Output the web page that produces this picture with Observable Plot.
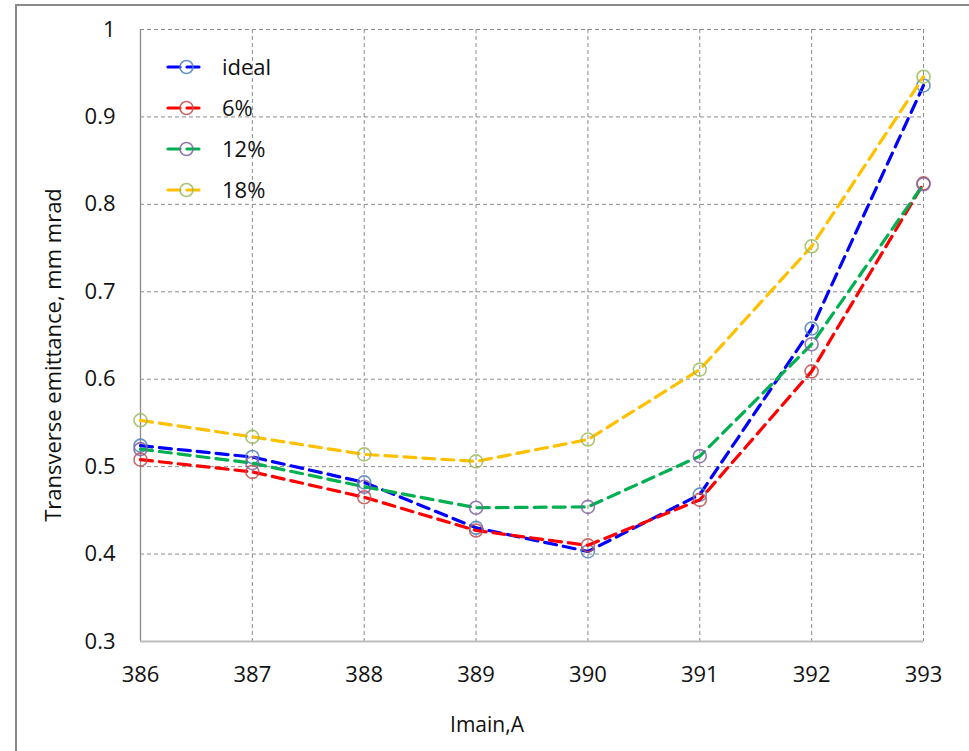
<!DOCTYPE html>
<html>
<head>
<meta charset="utf-8">
<script src="https://cdn.jsdelivr.net/npm/d3@7"></script>
<script src="https://cdn.jsdelivr.net/npm/@observablehq/plot@0.6"></script>
<style>
  html, body { margin: 0; padding: 0; background: #fff; }
  #wrap { position: relative; width: 969px; height: 751px; overflow: hidden; font-family: "Open Sans", sans-serif; }
  #frame { position: absolute; left: 15px; top: 4px; width: 1000px; height: 800px; border-left: 2px solid #8a8a8a; border-top: 2px solid #8a8a8a; box-sizing: border-box; }
  #chart { position: absolute; left: 0; top: 0; }
</style>
</head>
<body>
<div id="wrap"><div id="frame"></div><div id="chart"></div></div>
<script>
const currents = [386, 387, 388, 389, 390, 391, 392, 393];
const seriesNames = ["ideal", "6%", "12%", "18%"];
const ideal    = [0.524, 0.511, 0.482, 0.430, 0.403, 0.468, 0.658, 0.936];
const pct6     = [0.508, 0.494, 0.465, 0.427, 0.410, 0.462, 0.609, 0.824];
const pct12    = [0.520, 0.504, 0.477, 0.453, 0.454, 0.512, 0.640, 0.823];
const pct18    = [0.553, 0.534, 0.514, 0.506, 0.531, 0.611, 0.752, 0.946];
const yTicks   = [0.3, 0.4, 0.5, 0.6, 0.7, 0.8, 0.9, 1];
const lineColors   = ["#0000FF", "#FF0000", "#00B050", "#FFC000"];
const markerColors = ["#4F81BD", "#C0504D", "#8064A2", "#9BBB59"];

const seriesValues = [ideal, pct6, pct12, pct18];
const rows = [];
seriesNames.forEach((name, i) => {
  currents.forEach((c, j) => rows.push({series: name, idx: i, x: c, y: seriesValues[i][j]}));
});

const marks = [
  Plot.gridX(currents, {stroke: "#8c8c8c", strokeOpacity: 1, strokeDasharray: "4,3", strokeWidth: 1}),
  Plot.gridY(yTicks, {stroke: "#8c8c8c", strokeOpacity: 1, strokeDasharray: "4,3", strokeWidth: 1}),
  Plot.ruleX([386], {stroke: "#8a8a8a", strokeWidth: 1.3}),
  Plot.ruleY([0.3], {stroke: "#bdbdbd", strokeWidth: 2}),
  Plot.axisX(currents, {tickSize: 0, tickPadding: 25, fontSize: 22, tickFormat: d => String(d), fill: "#111"}),
  Plot.axisY(yTicks, {tickSize: 0, tickPadding: 25, fontSize: 22, tickFormat: d => d === 1 ? "1" : d.toFixed(1), fill: "#111"})
];
seriesNames.forEach((name, i) => {
  const data = rows.filter(r => r.idx === i);
  marks.push(Plot.line(data, {x: "x", y: "y", stroke: lineColors[i], strokeWidth: 3.2, strokeDasharray: "12,7", strokeLinecap: "round"}));
  marks.push(Plot.dot(data, {x: "x", y: "y", r: 6.5, stroke: markerColors[i], strokeWidth: 1.6, fill: "none", strokeOpacity: 0.85}));
});

const chart = Plot.plot({
  width: 969,
  height: 751,
  marginLeft: 140,
  marginRight: 46,
  marginTop: 29,
  marginBottom: 110,
  style: {fontFamily: "'Open Sans', sans-serif", fontSize: "22px", background: "transparent", overflow: "visible"},
  x: {domain: [386, 393], label: null, axis: null},
  y: {domain: [0.3, 1], label: null, axis: null},
  marks
});
document.getElementById("chart").appendChild(chart);

const svg = d3.select(chart);
svg.selectAll('g[aria-label="x-axis tick label"] text, g[aria-label="y-axis tick label"] text, g[aria-label="x-axis tick label"], g[aria-label="y-axis tick label"]')
  .attr("font-size", 22);

svg.append("text")
  .attr("transform", "translate(61,355) rotate(-90)")
  .attr("text-anchor", "middle")
  .attr("font-size", 22)
  .attr("font-family", "'Open Sans', sans-serif")
  .attr("fill", "#111")
  .text("Transverse emittance, mm mrad");
svg.append("text")
  .attr("x", 487).attr("y", 732)
  .attr("text-anchor", "middle")
  .attr("font-size", 21)
  .attr("font-family", "'Open Sans', sans-serif")
  .attr("fill", "#111")
  .text("Imain,A");

// legend
const lg = svg.append("g").attr("transform", "translate(168,67)");
seriesNames.forEach((name, i) => {
  const g = lg.append("g").attr("transform", `translate(0,${i * 41})`);
  g.append("line").attr("x1", 0).attr("x2", 37).attr("y1", 0).attr("y2", 0)
    .attr("stroke", lineColors[i]).attr("stroke-width", 3.2).attr("stroke-dasharray", "12,7").attr("stroke-linecap", "round");
  g.append("circle").attr("cx", 18.5).attr("cy", 0).attr("r", 6.5)
    .attr("fill", "none").attr("stroke", markerColors[i]).attr("stroke-width", 1.6).attr("stroke-opacity", 0.85);
  g.append("text").attr("x", 54).attr("y", 0).attr("dy", "0.35em")
    .attr("text-anchor", "start")
    .attr("font-size", 22).attr("font-family", "'Open Sans', sans-serif").attr("fill", "#111")
    .text(name);
});
</script>
</body>
</html>
